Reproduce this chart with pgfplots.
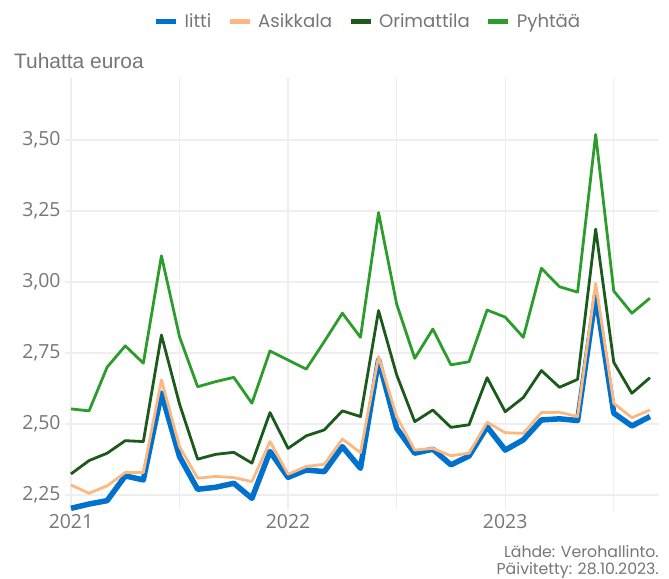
\documentclass[border=0pt]{standalone}
\usepackage{fontspec}
\setmainfont{Open Sans}
\newfontfamily\legfont{Poppins}
\newfontfamily\titlefont{Liberation Sans}
\usepackage{pgfplots}
\pgfplotsset{compat=1.18}
\usepackage{pgfplotstable}

\definecolor{iitti}{RGB}{0,114,206}
\definecolor{asikkala}{RGB}{252,184,128}
\definecolor{orimattila}{RGB}{28,90,28}
\definecolor{pyhtaa}{RGB}{44,157,44}
\definecolor{txtgray}{RGB}{118,118,118}
\definecolor{gridgray}{RGB}{238,238,238}

% kk = kuukausi (0 = tammikuu 2021)
\pgfplotstableread{
kk iitti asikkala orimattila pyhtaa
0  2.203 2.285 2.324 2.553
1  2.218 2.256 2.371 2.546
2  2.230 2.282 2.397 2.700
3  2.317 2.329 2.441 2.775
4  2.303 2.329 2.438 2.714
5  2.608 2.655 2.813 3.092
6  2.385 2.420 2.570 2.807
7  2.270 2.309 2.376 2.631
8  2.277 2.315 2.393 2.649
9  2.291 2.311 2.400 2.664
10 2.238 2.297 2.362 2.573
11 2.403 2.438 2.540 2.757
12 2.312 2.323 2.414 2.725
13 2.338 2.350 2.458 2.693
14 2.332 2.358 2.479 2.790
15 2.420 2.447 2.546 2.890
16 2.344 2.399 2.526 2.805
17 2.725 2.737 2.899 3.244
18 2.485 2.526 2.673 2.922
19 2.397 2.408 2.508 2.731
20 2.411 2.414 2.549 2.834
21 2.356 2.388 2.488 2.708
22 2.387 2.397 2.497 2.719
23 2.490 2.506 2.663 2.901
24 2.408 2.469 2.543 2.876
25 2.444 2.467 2.593 2.805
26 2.514 2.540 2.688 3.048
27 2.518 2.541 2.629 2.983
28 2.512 2.526 2.657 2.964
29 2.955 2.995 3.186 3.519
30 2.538 2.573 2.717 2.968
31 2.493 2.522 2.608 2.890
32 2.526 2.549 2.663 2.943
}\verot

\begin{document}
\begin{tikzpicture}
\begin{axis}[
    name=ax,
    scale only axis, width=594bp, height=432bp,
    xmin=-0.33, xmax=32.5, ymin=2.197, ymax=3.718,
    xtick={0,12,24}, xticklabels={2021,2022,2023},
    minor xtick={6,18,30},
    ytick={2.25,2.5,2.75,3,3.25,3.5},
    yticklabel style={/pgf/number format/use comma, /pgf/number format/fixed,
        /pgf/number format/fixed zerofill, /pgf/number format/precision=2,
        /pgf/number format/assume math mode=true, xshift=-1bp},
    ticklabel style={font=\fontsize{19.5}{22}\selectfont, text=txtgray},
    xticklabel style={yshift=-1bp},
    axis line style={draw=none}, tick style={draw=none},
    grid=both,
    major grid style={line width=1.3bp, gridgray},
    minor grid style={line width=1.3bp, gridgray},
    legend columns=4,
    legend style={draw=none, fill=none, at={(0.51,1.131)}, anchor=center,
        font=\legfont\fontsize{18.2}{21}\selectfont, text=txtgray,
        nodes={inner sep=2bp},
        /tikz/every odd column/.append style={column sep=4bp},
        /tikz/every even column/.append style={column sep=14bp}},
    legend image code/.code={\draw[#1, line width=5bp] (0bp,0bp) -- (20bp,0bp);},
]
\addplot[iitti, line width=5.5bp, line join=round] table[x=kk, y=iitti] {\verot};
\addlegendentry{Iitti}
\addplot[asikkala, line width=2.8bp, line join=round] table[x=kk, y=asikkala] {\verot};
\addlegendentry{Asikkala}
\addplot[orimattila, line width=2.8bp, line join=round] table[x=kk, y=orimattila] {\verot};
\addlegendentry{Orimattila}
\addplot[pyhtaa, line width=2.8bp, line join=round] table[x=kk, y=pyhtaa] {\verot};
\addlegendentry{Pyhtää}
\end{axis}
\node[anchor=base west, text=txtgray, font=\titlefont\fontsize{21}{24}\selectfont, inner sep=0pt]
    at ([xshift=-51bp, yshift=9bp]ax.north west) {Tuhatta euroa};
\node[anchor=north east, align=right, text=txtgray, inner sep=0pt,
    font=\legfont\fontsize{15.8}{17.5}\selectfont]
    at ([yshift=-35bp]ax.south east) {Lähde: Verohallinto.\\Päivitetty: 28.10.2023.};
\path ([xshift=-65bp, yshift=-69bp]ax.south west) rectangle ([xshift=10bp, yshift=78bp]ax.north east);
\end{tikzpicture}
\end{document}
